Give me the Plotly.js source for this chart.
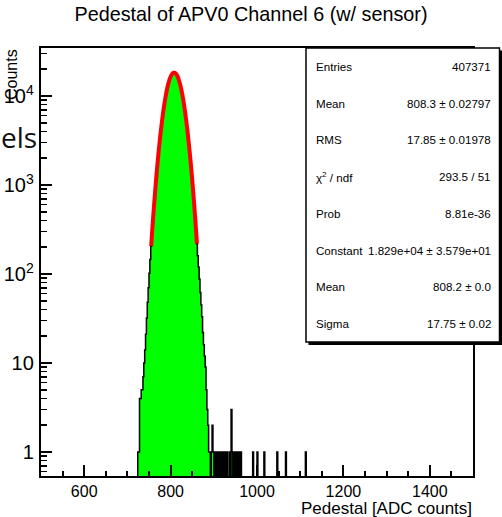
<!DOCTYPE html>
<html><head><meta charset="utf-8">
<script src="https://cdn.plot.ly/plotly-3.0.1.min.js"></script>
<style>html,body{margin:0;padding:0;background:#fff;}#chart{width:502px;height:517px;}</style>
</head><body><div id="chart"></div>
<script>
// ---- data ----
const histMin = 500, histMax = 1500, binWidth = 2;
const coreFirstBinLow = 724;
const coreCounts = [1,1,4,4,5,5,7,10,14,21,32,48,70,102,145,205,286,392,533,715,946,1237,1597,2035,2560,3182,3903,4728,5654,6676,7786,8962,10189,11437,12675,13871,14989,15991,16845,17522,17995,18248,18272,18064,17634,16995,16176,15199,14103,12920,11687,10438,9205,8015,6892,5849,4904,4058,3316,2676,2133,1678,1302,999,757,566,418,304,219,160,120,88,62,45,33,22,16,12,9,5,3,2,1];
const tailBinCenters = [891,895,897,899,903,907,911,915,919,923,927,931,937,941,943,947,951,955,959,963,991,1001,1017,1047,1067,1113];
const tailCounts =     [1,  1,  2,  1,  1,  1,  1,  1,  1,  1,  1,  1,  1,  3,  1,  1,  1,  1,  1,  1,  1,   1,   1,   1,   1,   1];
const fitX = [755,757,759,761,763,765,767,769,771,773,775,777,779,781,783,785,787,789,791,793,795,797,799,801,803,805,807,809,811,813,815,817,819,821,823,825,827,829,831,833,835,837,839,841,843,845,847,849,851,853,855,857,859,861];
const fitY = [205,286,392,533,715,946,1237,1597,2035,2560,3182,3903,4728,5654,6676,7786,8962,10189,11437,12675,13871,14989,15991,16845,17522,17995,18248,18272,18064,17634,16995,16176,15199,14103,12920,11687,10438,9205,8015,6892,5849,4904,4058,3316,2676,2133,1678,1302,999,757,566,418,304,219];
const statLabels = ["Entries","Mean","RMS","χ<sup>2</sup> / ndf","Prob","Constant","Mean","Sigma"];
const statValues = ["407371","808.3 ± 0.02797","17.85 ± 0.01978","293.5 / 51","8.81e-36","1.829e+04 ± 3.579e+01","808.2 ± 0.0","17.75 ± 0.02"];
const titleText = "Pedestal of APV0 Channel 6 (w/ sensor)";
const xTitle = "Pedestal [ADC counts]";
const yTitle = "Counts";
const overlayText = "els";

// ---- build histogram ----
const nBins = (histMax - histMin) / binWidth;
const counts = new Array(nBins).fill(0);
const c0 = (coreFirstBinLow - histMin) / binWidth;
coreCounts.forEach((c, i) => { counts[c0 + i] += c; });
tailBinCenters.forEach((x, i) => { counts[Math.floor((x - histMin) / binWidth)] += tailCounts[i]; });
const EMPTY = 0.1; // below visible log range
const hx = [], hy = [];
for (let i = 0; i < nBins; i++) { hx.push(histMin + i * binWidth); hy.push(counts[i] > 0 ? counts[i] : EMPTY); }
hx.push(histMax); hy.push(hy[hy.length - 1]);

// ---- geometry helpers (pixel -> paper) ----
const L = 41, R = 473, T = 48, B = 476, W = 502, H = 517;
const px = x => (x - L) / (R - L);
const py = y => (B - y) / (B - T);
const FONT = "Liberation Sans, Arial, Helvetica, sans-serif";

const traces = [
  {x: [histMin, histMax], y: [EMPTY, EMPTY], mode: 'lines', line: {width: 0, color: 'rgba(0,0,0,0)'}, hoverinfo: 'skip', showlegend: false},
  {x: hx, y: hy, mode: 'lines', line: {shape: 'hv', color: '#000', width: 1.5}, fill: 'tonexty', fillcolor: '#00ff00', showlegend: false},
  {x: fitX, y: fitY, mode: 'lines', line: {shape: 'spline', color: '#ff0000', width: 4}, showlegend: false}
];

const box = {x0: 306, x1: 499.5, y0: 48, y1: 342};
const shapes = [
  {type: 'rect', xref: 'paper', yref: 'paper', x0: px(box.x0 + 2.5), x1: px(502), y0: py(box.y0 + 2.5), y1: py(box.y1 + 3), fillcolor: '#000', line: {width: 0}, layer: 'above'},
  {type: 'rect', xref: 'paper', yref: 'paper', x0: px(box.x0), x1: px(box.x1), y0: py(box.y0), y1: py(box.y1), fillcolor: '#fff', line: {color: '#000', width: 1.5}, layer: 'above'}
];

const annotations = [];
const rowH = (box.y1 - box.y0) / statLabels.length;
statLabels.forEach((lab, i) => {
  const yc = box.y0 + (i + 0.5) * rowH;
  annotations.push({xref: 'paper', yref: 'paper', x: px(314), y: py(yc), xanchor: 'left', yanchor: 'middle', text: lab, showarrow: false, font: {family: FONT, size: 11.6, color: '#000'}});
  annotations.push({xref: 'paper', yref: 'paper', x: px(493), y: py(yc), xanchor: 'right', yanchor: 'middle', text: statValues[i], showarrow: false, font: {family: FONT, size: 11.6, color: '#000'}});
});
annotations.push({xref: 'paper', yref: 'paper', x: px(474), y: py(508), xanchor: 'right', yanchor: 'middle', text: xTitle, showarrow: false, font: {family: FONT, size: 17, color: '#000'}});
annotations.push({xref: 'paper', yref: 'paper', x: px(12), y: py(74), xanchor: 'center', yanchor: 'middle', text: yTitle, textangle: -90, showarrow: false, font: {family: FONT, size: 16, color: '#000'}});
annotations.push({xref: 'paper', yref: 'paper', x: px(39), y: py(137), xanchor: 'right', yanchor: 'middle', text: overlayText, showarrow: false, font: {family: "Open Sans, sans-serif", size: 28, color: '#111'}});

const layout = {
  width: W, height: H,
  margin: {l: L, r: W - R, t: T, b: H - B, pad: 0},
  paper_bgcolor: '#fff', plot_bgcolor: '#fff',
  showlegend: false,
  title: {text: titleText, x: 0.5, xref: 'container', xanchor: 'center', y: 1 - 14 / H, yref: 'container', yanchor: 'middle', font: {family: FONT, size: 19.8, color: '#000'}},
  xaxis: {range: [histMin, histMax], tick0: 0, dtick: 200, ticks: 'inside', ticklen: 11, tickwidth: 2, tickcolor: '#000',
          minor: {dtick: 50, ticks: 'inside', ticklen: 5.5, tickwidth: 2, tickcolor: '#000', showgrid: false},
          showline: true, linewidth: 2, linecolor: '#000', mirror: true, showgrid: false, zeroline: false,
          tickfont: {family: FONT, size: 16, color: '#000'}, ticklabelstandoff: 0},
  yaxis: {type: 'log', range: [-0.27, 4.539], dtick: 1, exponentformat: 'power', ticks: 'inside', ticklen: 11, tickwidth: 2, tickcolor: '#000',
          minor: {dtick: 'D1', ticks: 'inside', ticklen: 6, tickwidth: 1.5, tickcolor: '#000', showgrid: false},
          showline: true, linewidth: 2, linecolor: '#000', mirror: true, showgrid: false, zeroline: false,
          tickfont: {family: FONT, size: 16, color: '#000'}, ticklabelstandoff: 2},
  shapes: shapes,
  annotations: annotations
};
Plotly.newPlot('chart', traces, layout, {staticPlot: true, displayModeBar: false});
</script></body></html>
